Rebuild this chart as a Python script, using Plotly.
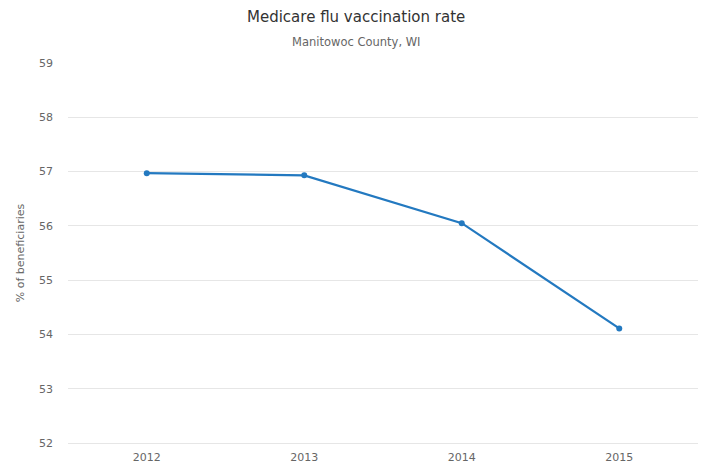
import plotly.graph_objects as go

years = ["2012", "2013", "2014", "2015"]
rates = [56.97, 56.93, 56.05, 54.11]
y_ticks = [52, 53, 54, 55, 56, 57, 58, 59]

font_family = "DejaVu Sans, Lucida Grande, Arial, sans-serif"

# The page body adds an 8px offset, so the figure is sized to fit the window.
OFFSET = 8
FIG_W = 717 - OFFSET
FIG_H = 467 - OFFSET
M_L, M_R, M_T, M_B = 68 - OFFSET, 19, 63 - OFFSET, 24
PLOT_W = FIG_W - M_L - M_R
PLOT_H = FIG_H - M_T - M_B
TITLE_X = (356 - OFFSET - M_L) / PLOT_W

fig = go.Figure()
fig.add_trace(go.Scatter(
    x=years, y=rates, mode="lines+markers",
    line=dict(color="#2379c0", width=2.2),
    marker=dict(color="#2379c0", size=6),
    showlegend=False,
    hovertemplate="%{x}: %{y}<extra></extra>",
))

fig.update_layout(
    width=FIG_W, height=FIG_H,
    paper_bgcolor="white", plot_bgcolor="white",
    margin=dict(l=M_L, r=M_R, t=M_T, b=M_B, autoexpand=False),
    font=dict(family=font_family, color="#666666", size=11),
    xaxis=dict(
        type="category", range=[-0.5, 3.5], automargin=False,
        showgrid=False, showline=True, linecolor="#e6e6e6", linewidth=1,
        ticks="", ticklabelstandoff=4,
        tickfont=dict(size=11, color="#666666"), zeroline=False,
    ),
    yaxis=dict(
        range=[52, 59], tickvals=y_ticks, ticktext=[str(v) for v in y_ticks],
        automargin=False,
        showgrid=True, gridcolor="#e6e6e6", gridwidth=1, zeroline=False,
        showline=False, ticks="", ticklabelstandoff=14,
        tickfont=dict(size=11, color="#666666"),
        title=dict(text="% of beneficiaries", font=dict(size=11, color="#666666"), standoff=12),
    ),
)
fig.add_annotation(text="Medicare flu vaccination rate", xref="paper", yref="paper",
                   x=TITLE_X, y=1 + (63 - 17) / PLOT_H, showarrow=False,
                   font=dict(size=15, color="#333333", family=font_family),
                   xanchor="center", yanchor="middle")
fig.add_annotation(text="Manitowoc County, WI", xref="paper", yref="paper",
                   x=TITLE_X, y=1 + (63 - 42) / PLOT_H, showarrow=False,
                   font=dict(size=11.5, color="#666666", family=font_family),
                   xanchor="center", yanchor="middle")

fig.write_html("out.html")
